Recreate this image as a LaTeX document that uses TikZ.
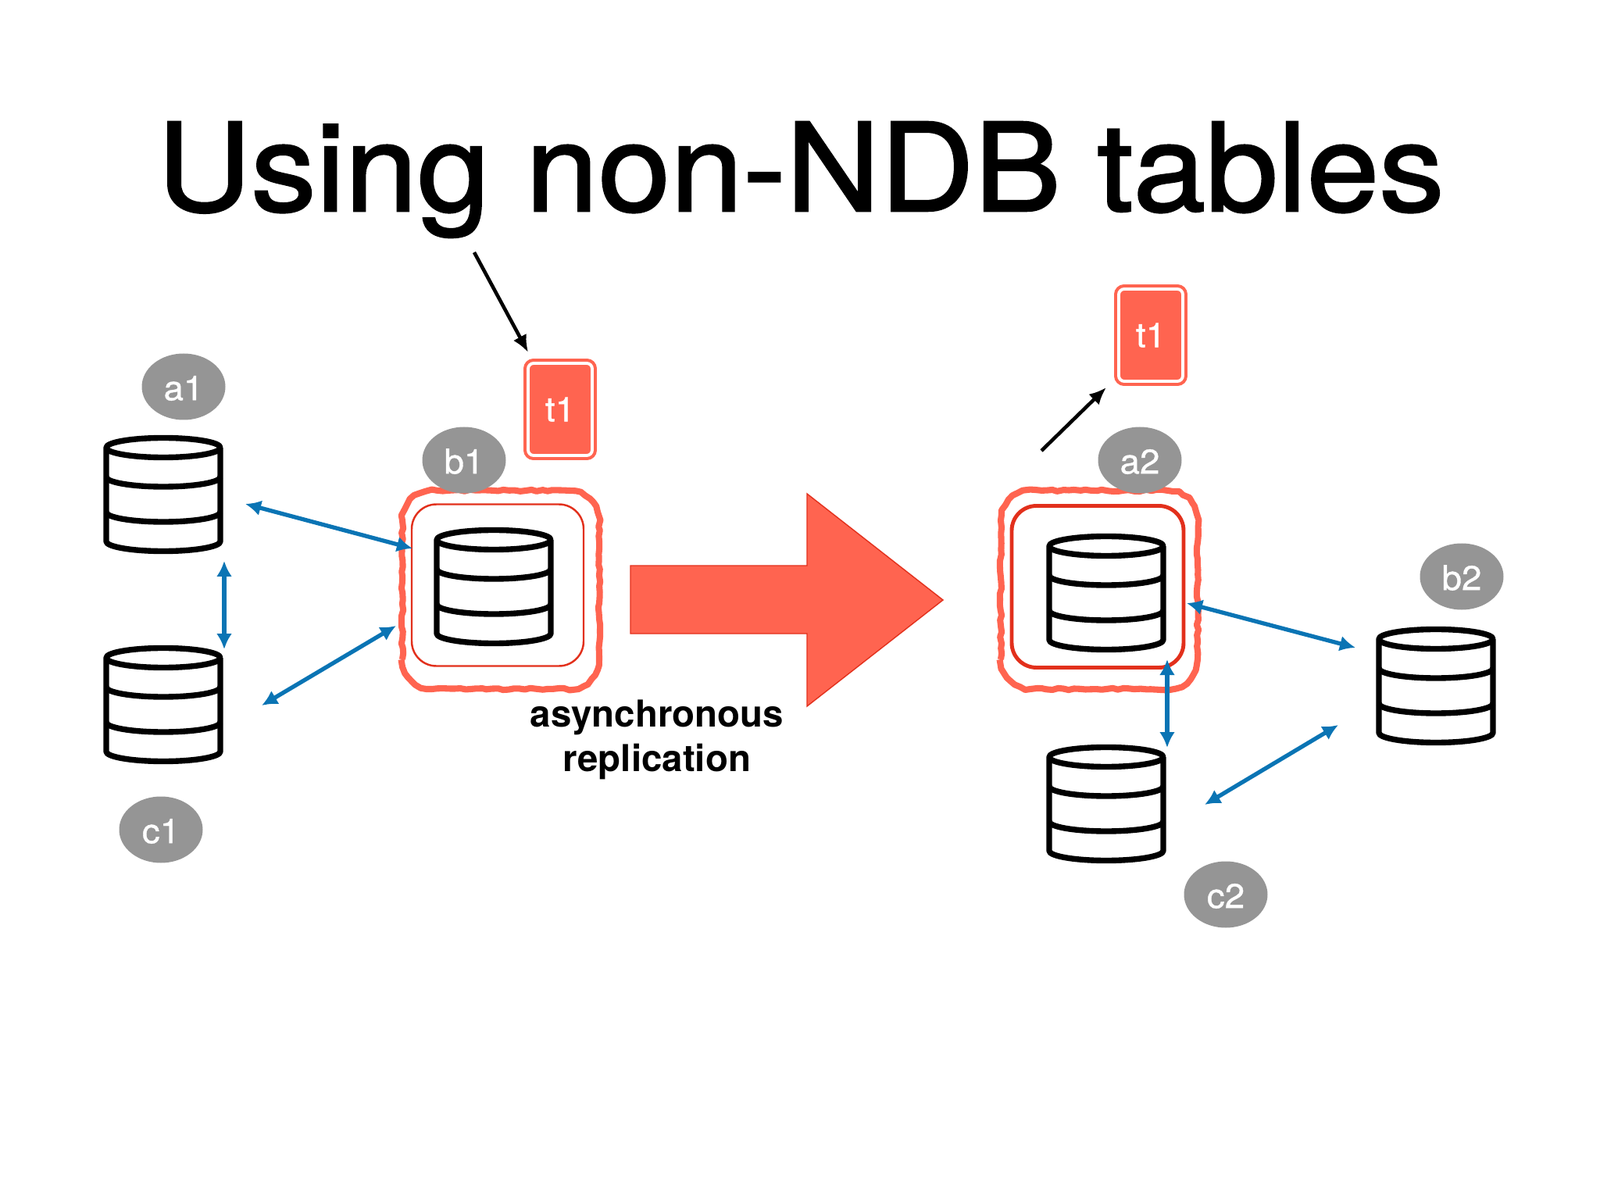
\documentclass[tikz,border=0pt]{standalone}
\usepackage{fontspec}
\setmainfont{TeX Gyre Heros}
\newfontfamily\titlefont[FakeBold=1.6,FakeStretch=1.065]{TeX Gyre Heros}
\newfontfamily\tagfont[FakeBold=0.8,FakeStretch=1.04]{TeX Gyre Heros}
\usetikzlibrary{arrows.meta}
\usetikzlibrary{shapes.geometric}
\usetikzlibrary{decorations.pathmorphing}
\definecolor{tomatofill}{HTML}{FF6450}
\definecolor{innerred}{HTML}{E2301C}
\definecolor{repblue}{HTML}{0A74B4}
\definecolor{tagrey}{HTML}{959595}
\tikzset{
	dbcyl/.pic={
		\draw[line width=2.1pt, line join=round] (-.73,.60) arc (180:-180:.73 and .125)
			-- (-.73,-.60) arc (180:360:.73 and .125) -- (.73,.60);
		\draw[line width=2.1pt] (-.73,.225) arc (180:360:.73 and .125);
		\draw[line width=2.1pt] (-.73,-.225) arc (180:360:.73 and .125);
	},
	roughbox/.pic={
		\draw[tomatofill, line width=2.3pt, line join=round, decorate, decoration={random steps, segment length=2pt, amplitude=.35pt}]
			(-1.26,-.89) -- (-1.26,.89) arc (180:90:.38) -- (.88,1.27) arc (90:0:.38)
			-- (1.26,-.89) arc (0:-90:.38) -- (-.88,-1.27) arc (-90:-180:.38) -- cycle;
	},
	tagnode/.style={ellipse, fill=tagrey, text=white, font=\tagfont\fontsize{12.5}{14}\selectfont, text height=10pt, minimum width=1.07cm, minimum height=.85cm, inner sep=0pt},
	tablebox/.style={rectangle, rounded corners=2pt, fill=tomatofill, draw=white, line width=1.1pt, text=white, font=\tagfont\fontsize{12.5}{14}\selectfont, minimum width=.82cm, minimum height=1.18cm, inner sep=0pt, preaction={draw=tomatofill, line width=3.4pt}},
	innerbox/.style={rectangle, draw=innerred, rounded corners=9pt, minimum width=2.2cm, minimum height=2.07cm},
	reparrow/.style={{Latex[length=.2cm,width=.2cm]}-{Latex[length=.2cm,width=.2cm]}, repblue, line width=1.5pt},
	blackarrow/.style={-{Latex[length=.22cm,width=.19cm]}, line width=1.3pt},
}
\begin{document}
\begin{tikzpicture}
	\useasboundingbox (0,0) rectangle (20.48,-15.36);
	% title
	\node[anchor=base, font=\titlefont\fontsize{44.5}{50}\selectfont] (title) at (10.25,-2.70) {Using non-NDB tables};

	% red boxes round the primaries
	\pic (rougha) at (6.41,-7.55) {roughbox};
	\pic (roughb) at (14.07,-7.55) {roughbox};
	\node[innerbox, line width=.7pt] (innera) at (6.37,-7.49) {};
	\node[innerbox, line width=1.4pt] (innerb) at (14.05,-7.51) {};

	% databases
	\pic (dba1) at (2.09,-6.33) {dbcyl};
	\pic (dbc1) at (2.09,-9.02) {dbcyl};
	\pic (dbb1) at (6.32,-7.51) {dbcyl};
	\pic (dba2) at (14.16,-7.59) {dbcyl};
	\pic (dbc2) at (14.16,-10.29) {dbcyl};
	\pic (dbb2) at (18.38,-8.78) {dbcyl};

	% server names
	\node[tagnode] (a1) at (2.35,-4.95) {a1};
	\node[tagnode] (b1) at (5.94,-5.89) {b1};
	\node[tagnode] (c1) at (2.06,-10.62) {c1};
	\node[tagnode] (a2) at (14.59,-5.89) {a2};
	\node[tagnode] (b2) at (18.71,-7.38) {b2};
	\node[tagnode] (c2) at (15.69,-11.45) {c2};

	% table boxes
	\node[tablebox] (t1left) at (7.17,-5.24) {t1};
	\node[tablebox] (t1right) at (14.73,-4.29) {t1};

	% big arrow
	\fill[tomatofill] (8.07,-7.24) -- (10.33,-7.24) -- (10.33,-6.32) -- (12.07,-7.68) -- (10.33,-9.04) -- (10.33,-8.11) -- (8.07,-8.11) -- cycle;
	\draw[innerred, line width=.4pt] (8.07,-7.24) -- (10.33,-7.24) -- (10.33,-6.32) -- (12.07,-7.68) -- (10.33,-9.04) -- (10.33,-8.11) -- (8.07,-8.11) -- cycle;
	\node[align=center, font=\fontsize{13.5}{16.3}\selectfont\bfseries] (asynclabel) at (8.41,-9.47) {asynchronous\\replication};

	% free ends of the connectors
	\coordinate (a1out) at (3.14,-6.45);
	\coordinate (b1in) at (5.28,-7.02);
	\coordinate (a1down) at (2.87,-7.18);
	\coordinate (c1up) at (2.87,-8.31);
	\coordinate (c1out) at (3.35,-9.03);
	\coordinate (b1low) at (5.07,-8.01);
	\coordinate (a2out) at (15.19,-7.72);
	\coordinate (b2in) at (17.35,-8.29);
	\coordinate (a2down) at (14.94,-8.44);
	\coordinate (c2up) at (14.94,-9.57);
	\coordinate (c2out) at (15.42,-10.30);
	\coordinate (b2low) at (17.13,-9.28);
	\coordinate (clientleft) at (6.07,-3.23);
	\coordinate (t1lefttop) at (6.76,-4.51);
	\coordinate (clientright) at (13.33,-5.77);
	\coordinate (t1rightlow) at (14.16,-4.96);

	% replication arrows
	\draw[reparrow] (a1out) -- (b1in);
	\draw[reparrow] (a1down) -- (c1up);
	\draw[reparrow] (c1out) -- (b1low);
	\draw[reparrow] (a2out) -- (b2in);
	\draw[reparrow] (a2down) -- (c2up);
	\draw[reparrow] (c2out) -- (b2low);

	% client arrows
	\draw[blackarrow] (clientleft) -- (t1lefttop);
	\draw[blackarrow] (clientright) -- (t1rightlow);
\end{tikzpicture}
\end{document}
